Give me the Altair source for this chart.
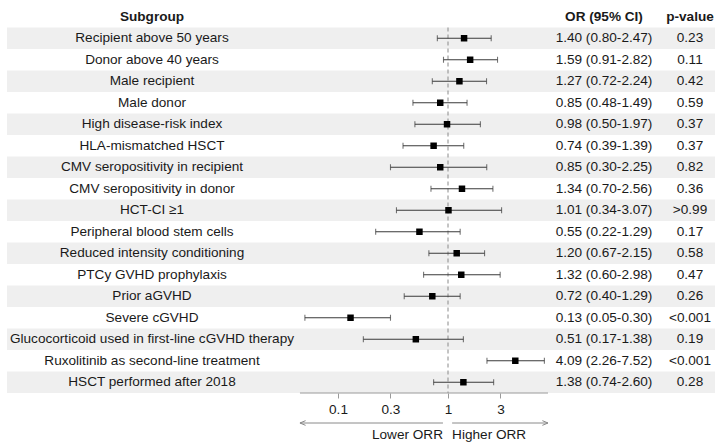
import altair as alt
import pandas as pd

# ---- data -----------------------------------------------------------------
subgroups = [
    "Recipient above 50 years",
    "Donor above 40 years",
    "Male recipient",
    "Male donor",
    "High disease-risk index",
    "HLA-mismatched HSCT",
    "CMV seropositivity in recipient",
    "CMV seropositivity in donor",
    "HCT-CI ≥1",
    "Peripheral blood stem cells",
    "Reduced intensity conditioning",
    "PTCy GVHD prophylaxis",
    "Prior aGVHD",
    "Severe cGVHD",
    "Glucocorticoid used in first-line cGVHD therapy",
    "Ruxolitinib as second-line treatment",
    "HSCT performed after 2018",
]
odds_ratio = [1.40, 1.59, 1.27, 0.85, 0.98, 0.74, 0.85, 1.34, 1.01, 0.55,
              1.20, 1.32, 0.72, 0.13, 0.51, 4.09, 1.38]
ci_low = [0.80, 0.91, 0.72, 0.48, 0.50, 0.39, 0.30, 0.70, 0.34, 0.22,
          0.67, 0.60, 0.40, 0.05, 0.17, 2.26, 0.74]
ci_high = [2.47, 2.82, 2.24, 1.49, 1.97, 1.39, 2.25, 2.56, 3.07, 1.29,
           2.15, 2.98, 1.29, 0.30, 1.38, 7.52, 2.60]
p_values = ["0.23", "0.11", "0.42", "0.59", "0.37", "0.37", "0.82", "0.36",
            ">0.99", "0.17", "0.58", "0.47", "0.26", "<0.001", "0.19",
            "<0.001", "0.28"]
tick_values = [0.1, 0.3, 1, 3]
headers = ["Subgroup", "OR (95% CI)", "p-value"]

# ---- layout ---------------------------------------------------------------
FONT = "Liberation Sans"
FS = 13.6
TXT = "#1a1a1a"
W, H = 715, 387              # plot area; header + 17 rows share the height
ROW_H = H / (len(subgroups) + 1)
X_ONE = 448                   # pixel position of OR = 1
PX_PER_DECADE = 110
x_domain = [10 ** (-X_ONE / PX_PER_DECADE), 10 ** ((W - X_ONE) / PX_PER_DECADE)]
AXIS_MIN, AXIS_MAX = 0.0451, 8.11
GAP_LO, GAP_HI = 0.90, 1.09   # arrows stop short of OR = 1
COL_LABEL, COL_OR, COL_P = 152, 604, 690
ARROW_Y = H + 30
NOTE_Y = H + 46

HEADER_KEY = "__header__"
rows = [HEADER_KEY] + subgroups

df = pd.DataFrame({
    "subgroup": subgroups,
    "OR": odds_ratio,
    "lo": ci_low,
    "hi": ci_high,
    "p": p_values,
})
df["or_label"] = [f"{o:.2f} ({l:.2f}-{h:.2f})"
                  for o, l, h in zip(odds_ratio, ci_low, ci_high)]
stripes = df[[i % 2 == 0 for i in range(len(df))]]

head_df = pd.DataFrame({
    "subgroup": [HEADER_KEY] * 3,
    "text": headers,
    "xpos": [COL_LABEL, COL_OR, COL_P],
})


def xq(field):
    return alt.X(
        f"{field}:Q",
        scale=alt.Scale(type="log", domain=x_domain, nice=False, zero=False),
        axis=alt.Axis(values=tick_values, format="~g", domain=False,
                      grid=False, ticks=True, tickColor="#9a9a9a",
                      tickSize=5, labelFont=FONT, labelFontSize=FS,
                      labelColor=TXT, labelPadding=4, title=None),
    )


def xd(value):
    return alt.X(datum=value, type="quantitative")


y = alt.Y("subgroup:N",
          scale=alt.Scale(domain=rows, paddingInner=0, paddingOuter=0),
          axis=None)

base = alt.Chart(df)
single = alt.Chart(pd.DataFrame({"k": [0]}))   # one-off annotation marks

stripe_layer = alt.Chart(stripes).mark_rect(color="#efefef").encode(
    x=alt.value(7), x2=alt.value(W), y=y)

ref_line = single.mark_rule(color="#8a8a8a", strokeDash=[4, 3],
                            strokeWidth=1).encode(
    x=xd(1), y=alt.value(ROW_H), y2=alt.value(H))

ci_rule = base.mark_rule(color="#3a3a3a", strokeWidth=1.1).encode(
    x=xq("lo"), x2="hi:Q", y=y)
cap_lo = base.mark_tick(color="#3a3a3a", thickness=1.1, size=6).encode(
    x=xq("lo"), y=y)
cap_hi = base.mark_tick(color="#3a3a3a", thickness=1.1, size=6).encode(
    x=xq("hi"), y=y)
points = base.mark_square(size=42, color="black", opacity=1).encode(
    x=xq("OR"), y=y)

label_txt = base.mark_text(font=FONT, fontSize=FS, color=TXT,
                           align="center").encode(
    x=alt.value(COL_LABEL), y=y, text="subgroup:N")
or_txt = base.mark_text(font=FONT, fontSize=FS, color=TXT,
                        align="center").encode(
    x=alt.value(COL_OR), y=y, text="or_label:N")
p_txt = base.mark_text(font=FONT, fontSize=FS, color=TXT,
                       align="center").encode(
    x=alt.value(COL_P), y=y, text="p:N")
head_txt = alt.Chart(head_df).mark_text(font=FONT, fontSize=FS, color=TXT,
                                        fontWeight="bold",
                                        align="center").encode(
    x=alt.X("xpos:Q", scale=None), y=y, text="text:N")

axis_line = single.mark_rule(color="#9a9a9a", strokeWidth=1).encode(
    x=xd(AXIS_MIN), x2=alt.X2(datum=AXIS_MAX), y=alt.value(H))

arrow_left = single.mark_rule(color="#8a8a8a", strokeWidth=1).encode(
    x=xd(AXIS_MIN), x2=alt.X2(datum=GAP_LO), y=alt.value(ARROW_Y))
arrow_right = single.mark_rule(color="#8a8a8a", strokeWidth=1).encode(
    x=xd(GAP_HI), x2=alt.X2(datum=AXIS_MAX), y=alt.value(ARROW_Y))
head_left = single.mark_point(shape="M2.4,-1L0,0L2.4,1", filled=False,
                              size=22, color="#8a8a8a", strokeWidth=1,
                              opacity=1).encode(
    x=xd(AXIS_MIN), y=alt.value(ARROW_Y))
head_right = single.mark_point(shape="M-2.4,-1L0,0L-2.4,1", filled=False,
                               size=22, color="#8a8a8a", strokeWidth=1,
                               opacity=1).encode(
    x=xd(AXIS_MAX), y=alt.value(ARROW_Y))
lower_txt = single.mark_text(text="Lower ORR", font=FONT, fontSize=FS,
                             color=TXT, align="right",
                             baseline="alphabetic").encode(
    x=xd(GAP_LO), y=alt.value(NOTE_Y))
higher_txt = single.mark_text(text="Higher ORR", font=FONT, fontSize=FS,
                              color=TXT, align="left",
                              baseline="alphabetic").encode(
    x=xd(GAP_HI), y=alt.value(NOTE_Y))

chart = alt.layer(
    stripe_layer, ref_line, ci_rule, cap_lo, cap_hi, points,
    label_txt, or_txt, p_txt, head_txt, axis_line,
    arrow_left, arrow_right, head_left, head_right, lower_txt, higher_txt,
).properties(
    width=W, height=H,
    autosize=alt.AutoSizeParams(type="none"),
    padding={"left": 0, "top": 6, "right": 0, "bottom": 50},
    background="white",
).configure_view(stroke=None)

chart.save("out.html", embed_options={"renderer": "svg", "actions": False})
